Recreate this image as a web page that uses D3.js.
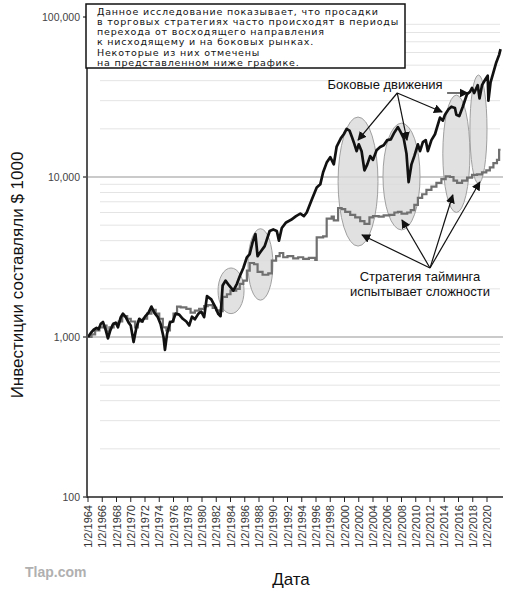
<!DOCTYPE html>
<html>
<head>
<meta charset="utf-8">
<script src="https://cdn.jsdelivr.net/npm/d3@7"></script>
<style>
  body { margin: 0; background: #fff; }
  svg { display: block; font-family: "Liberation Sans", Arial, sans-serif; }
</style>
</head>
<body>
<svg id="chart"></svg>
<script>
// buy & hold (black) : [year, value]
const buyHold = [
  [1964.0, 1000], [1964.4, 1060], [1964.8, 1110], [1965.2, 1140], [1965.5, 1120], [1965.8, 1210],
  [1966.1, 1240], [1966.5, 1100], [1966.8, 980], [1967.1, 1090], [1967.5, 1200], [1967.9, 1230],
  [1968.2, 1150], [1968.6, 1330], [1968.9, 1400], [1969.3, 1330], [1969.7, 1230], [1970.0, 1180],
  [1970.4, 930], [1970.8, 1150], [1971.2, 1300], [1971.6, 1250], [1972.0, 1340], [1972.5, 1420],
  [1972.9, 1550], [1973.3, 1420], [1973.8, 1330], [1974.2, 1200], [1974.6, 1000], [1974.8, 830],
  [1975.1, 1050], [1975.5, 1230], [1975.9, 1250], [1976.3, 1400], [1976.8, 1380], [1977.3, 1300],
  [1977.8, 1250], [1978.2, 1180], [1978.6, 1340], [1979.0, 1290], [1979.5, 1400], [1979.9, 1440],
  [1980.3, 1330], [1980.7, 1800], [1981.3, 1720], [1981.8, 1560], [1982.3, 1390], [1982.6, 1350],
  [1982.9, 2100], [1983.3, 2250], [1983.8, 2100], [1984.4, 1950], [1984.9, 2150], [1985.3, 2400],
  [1985.8, 2700], [1986.3, 3150], [1986.7, 3300], [1987.1, 3900], [1987.5, 4400], [1987.8, 3200],
  [1988.2, 3400], [1988.8, 3700], [1989.5, 4600], [1990.0, 4700], [1990.5, 4600], [1990.8, 4000],
  [1991.2, 4800], [1991.8, 5200], [1992.5, 5400], [1993.2, 5700], [1993.8, 5900], [1994.3, 5700],
  [1994.7, 6000], [1995.4, 7200], [1996.1, 8600], [1996.6, 9000], [1997.0, 10700], [1997.5, 12300],
  [1998.0, 13300], [1998.5, 12000], [1998.9, 15500], [1999.5, 17500], [1999.9, 18500], [2000.3, 20000],
  [2000.7, 19500], [2001.0, 18000], [2001.3, 16500], [2001.7, 14500], [2002.0, 16000], [2002.4, 14500],
  [2002.8, 11000], [2003.2, 12000], [2003.6, 13500], [2004.0, 12800], [2004.5, 14700], [2005.0, 15400],
  [2005.5, 15800], [2006.0, 17000], [2006.5, 17200], [2007.0, 19000], [2007.5, 20500], [2007.9, 19000],
  [2008.3, 17500], [2008.7, 14000], [2009.0, 9300], [2009.4, 12000], [2009.8, 13500], [2010.3, 16000],
  [2010.6, 14500], [2011.0, 16500], [2011.4, 17000], [2011.7, 14500], [2012.2, 17000], [2012.7, 18500],
  [2013.4, 23500], [2013.8, 22500], [2014.1, 24500], [2014.6, 26500], [2015.0, 27500], [2015.5, 27000],
  [2015.7, 24500], [2016.1, 24000], [2016.6, 27500], [2017.2, 33000], [2017.6, 34000], [2017.9, 36000],
  [2018.2, 33500], [2018.7, 37500], [2018.95, 31000], [2019.3, 37500], [2019.8, 41000], [2020.1, 43000],
  [2020.2, 30000], [2020.5, 39000], [2020.9, 45000], [2021.3, 52000], [2021.7, 58000], [2021.9, 63000]
];

// timing strategy (gray, stepped) : [year, value]
const timing = [
  [1964.0, 1000], [1964.5, 1040], [1965.0, 1100], [1965.6, 1150], [1966.2, 1180], [1966.6, 1080],
  [1967.0, 1150], [1967.6, 1220], [1968.3, 1250], [1968.8, 1350], [1969.5, 1300], [1970.0, 1250],
  [1970.6, 1150], [1971.0, 1250], [1971.7, 1300], [1972.3, 1400], [1972.9, 1480], [1973.5, 1400],
  [1974.0, 1300], [1974.5, 1150], [1975.0, 1100], [1975.5, 1250], [1976.0, 1400], [1976.5, 1550],
  [1977.0, 1530], [1977.8, 1500], [1978.4, 1420], [1979.0, 1460], [1979.6, 1500], [1980.3, 1560],
  [1980.8, 1580], [1981.5, 1520], [1982.0, 1470], [1982.5, 1450], [1982.9, 1780], [1983.5, 1850],
  [1984.0, 1950], [1984.8, 2000], [1985.3, 2150], [1985.8, 2250], [1986.3, 2600], [1986.7, 2900],
  [1987.3, 2850], [1987.8, 2550], [1988.5, 2450], [1989.3, 2500], [1989.8, 3000], [1990.4, 3200],
  [1990.9, 3350], [1991.4, 3150], [1992.0, 3200], [1992.8, 3100], [1993.5, 3150], [1994.2, 3080],
  [1995.0, 3120], [1995.9, 3030], [1996.1, 4200], [1997.0, 4250], [1997.5, 5500], [1998.2, 5650],
  [1998.5, 5350], [1999.1, 6400], [1999.6, 6300], [2000.1, 6050], [2000.8, 5800], [2001.5, 5600],
  [2002.2, 5300], [2002.8, 5100], [2003.5, 5600], [2004.0, 5700], [2004.8, 5650], [2005.5, 5750],
  [2006.3, 5800], [2007.0, 6000], [2007.5, 6050], [2008.0, 5900], [2008.8, 6000], [2009.3, 6200],
  [2009.8, 6700], [2010.3, 7400], [2010.9, 7800], [2011.5, 8300], [2012.2, 8700], [2012.9, 9200],
  [2013.6, 9700], [2014.2, 10100], [2014.8, 10000], [2015.3, 9500], [2015.8, 9200], [2016.5, 9500],
  [2017.2, 9900], [2017.9, 10300], [2018.6, 10400], [2019.3, 10700], [2019.9, 11000], [2020.4, 11500],
  [2020.9, 12200], [2021.4, 12800], [2021.7, 14800], [2021.9, 14800]
];

const tickYears = d3.range(1964, 2021, 2);
const yTicks = [100, 1000, 10000, 100000];

// highlighted periods: [yearFrom, yearTo, valueLow, valueHigh]
const periods = [
  [1982.25, 1985.9, 1400, 2700],
  [1986.45, 1989.95, 1700, 4750],
  [1999.1, 2004.7, 3700, 23700],
  [2005.4, 2010.6, 4670, 21700],
  [2013.8, 2017.6, 6000, 32500],
  [2017.6, 2020.0, 9100, 43400]
];

const boxText = [
  "Данное исследование показывает, что просадки",
  "в торговых стратегиях часто происходят в периоды",
  "перехода от восходящего направления",
  "к нисходящему и на боковых рынках.",
  "Некоторые из них отмечены",
  "на представленном ниже графике."
];

// annotations in data units: label position + arrow targets
const sidewaysLabel = { text: "Боковые движения", at: [2005.7, 35500], from: [2007.4, 33500] };
const sidewaysTargets = [[2001.9, 17000], [2008.77, 17000], [2013.7, 25500]];
const sidewaysLine = [[2014.4, 33500], [2017.3, 33500]];
const timingLabel = { lines: ["Стратегия тайминга", "испытывает сложности"], at: [2010.6, 2240], from: [2012.0, 2700] };
const timingTargets = [[2002.46, 4340], [2008.07, 5390], [2015.2, 7720], [2019.0, 9300]];

function draw() {
  const width = 508, height = 591;
  const svg = d3.select('#chart').attr('width', width).attr('height', height);

  const x = d3.scaleLinear().domain([1964, 2020]).range([88, 487]);
  const y = d3.scaleLog().domain([100, 100000]).range([497, 17]);
  const xLeft = 87, xRight = 503;

  // minor gridlines
  const minor = [];
  [100, 1000, 10000].forEach(p => { for (let k = 2; k <= 9; k++) minor.push(p * k); });
  svg.append('g').selectAll('line').data(minor).enter().append('line')
    .attr('x1', 100).attr('x2', xRight - 3)
    .attr('y1', d => y(d)).attr('y2', d => y(d))
    .style('stroke', '#e4e4e4').style('stroke-width', 1);

  // major gridlines
  svg.append('g').selectAll('line').data([1000, 10000]).enter().append('line')
    .attr('x1', xLeft).attr('x2', xRight)
    .attr('y1', d => y(d)).attr('y2', d => y(d))
    .style('stroke', '#b8b8b8').style('stroke-width', 1.5);

  // highlighted ellipses
  svg.append('g').selectAll('ellipse').data(periods).enter().append('ellipse')
    .attr('cx', d => (x(d[0]) + x(d[1])) / 2)
    .attr('cy', d => (y(d[2]) + y(d[3])) / 2)
    .attr('rx', d => (x(d[1]) - x(d[0])) / 2)
    .attr('ry', d => (y(d[2]) - y(d[3])) / 2)
    .style('fill', '#d9d9d9').style('fill-opacity', 0.8)
    .style('stroke', '#a0a0a0').style('stroke-width', 1);

  const line = d3.line().x(d => x(d[0])).y(d => y(d[1]));

  svg.append('path').datum(timing)
    .attr('d', line.curve(d3.curveStepAfter))
    .style('fill', 'none').style('stroke', '#707070').style('stroke-width', 2.2);

  svg.append('path').datum(buyHold)
    .attr('d', d3.line().x(d => x(d[0])).y(d => y(d[1]))(buyHold))
    .style('fill', 'none').style('stroke', '#111').style('stroke-width', 2.7)
    .style('stroke-linejoin', 'round');

  // axes
  svg.append('line').attr('x1', xLeft).attr('x2', xLeft).attr('y1', 4).attr('y2', 498)
    .style('stroke', '#555').style('stroke-width', 2);
  svg.append('line').attr('x1', xLeft).attr('x2', xRight).attr('y1', 497).attr('y2', 497)
    .style('stroke', '#222').style('stroke-width', 1.5);

  svg.append('g').selectAll('line').data(yTicks).enter().append('line')
    .attr('x1', xLeft - 4).attr('x2', xLeft).attr('y1', d => y(d)).attr('y2', d => y(d))
    .style('stroke', '#555').style('stroke-width', 1.5);
  svg.append('g').selectAll('text').data(yTicks).enter().append('text')
    .attr('x', xLeft - 7).attr('y', d => y(d) + 4)
    .attr('text-anchor', 'end')
    .style('font-size', '10.5px').style('fill', '#444')
    .text(d => d3.format(',')(d));

  svg.append('g').selectAll('line').data(tickYears).enter().append('line')
    .attr('x1', d => x(d)).attr('x2', d => x(d)).attr('y1', 497).attr('y2', 502)
    .style('stroke', '#222').style('stroke-width', 1);
  svg.append('g').selectAll('text').data(tickYears).enter().append('text')
    .attr('transform', d => `translate(${x(d) + 4},505) rotate(-90)`)
    .attr('text-anchor', 'end')
    .style('font-size', '11px').style('fill', '#333')
    .text(d => '1/2/' + d);

  // axis titles
  svg.append('text')
    .attr('transform', 'translate(23,275) rotate(-90)')
    .attr('text-anchor', 'middle')
    .style('font-size', '17px').style('fill', '#111')
    .text('Инвестиции составляли $ 1000');
  svg.append('text').attr('x', 291).attr('y', 585)
    .attr('text-anchor', 'middle')
    .style('font-size', '17px').style('fill', '#111')
    .text('Дата');

  svg.append('text').attr('x', 25).attr('y', 577)
    .style('font-size', '14px').style('font-weight', 'bold').style('fill', '#b0b0b0')
    .text('Tlap.com');

  // arrows
  svg.append('defs').append('marker')
    .attr('id', 'arr').attr('viewBox', '0 0 10 10').attr('refX', 9).attr('refY', 5)
    .attr('markerWidth', 9).attr('markerHeight', 9).attr('markerUnits', 'userSpaceOnUse')
    .attr('orient', 'auto')
    .append('path').attr('d', 'M0,0 L10,5 L0,10 Z').style('fill', '#111');

  const ann = svg.append('g');
  sidewaysTargets.forEach(t => {
    ann.append('line')
      .attr('x1', x(sidewaysLabel.from[0])).attr('y1', y(sidewaysLabel.from[1]))
      .attr('x2', x(t[0])).attr('y2', y(t[1]))
      .attr('marker-end', 'url(#arr)')
      .style('stroke', '#111').style('stroke-width', 1.2);
  });
  ann.append('line')
    .attr('x1', x(sidewaysLine[0][0])).attr('y1', y(sidewaysLine[0][1]))
    .attr('x2', x(sidewaysLine[1][0])).attr('y2', y(sidewaysLine[1][1]))
    .attr('marker-end', 'url(#arr)')
    .style('stroke', '#111').style('stroke-width', 1.2);
  timingTargets.forEach(t => {
    ann.append('line')
      .attr('x1', x(timingLabel.from[0])).attr('y1', y(timingLabel.from[1]))
      .attr('x2', x(t[0])).attr('y2', y(t[1]))
      .attr('marker-end', 'url(#arr)')
      .style('stroke', '#111').style('stroke-width', 1.2);
  });

  ann.append('text')
    .attr('x', x(sidewaysLabel.at[0])).attr('y', y(sidewaysLabel.at[1]))
    .attr('text-anchor', 'middle')
    .style('font-size', '13px').style('fill', '#111')
    .text(sidewaysLabel.text);
  timingLabel.lines.forEach((t, i) => {
    ann.append('text')
      .attr('x', x(timingLabel.at[0])).attr('y', y(timingLabel.at[1]) + i * 15)
      .attr('text-anchor', 'middle')
      .style('font-size', '13px').style('fill', '#111')
      .text(t);
  });

  // note box
  svg.append('rect').attr('x', 86).attr('y', 4).attr('width', 319).attr('height', 64)
    .style('fill', '#fff').style('stroke', '#111').style('stroke-width', 1.5);
  svg.append('g').selectAll('text').data(boxText).enter().append('text')
    .attr('x', 97).attr('y', (d, i) => 14.5 + i * 10.3)
    .style('font-family', '"DejaVu Sans", sans-serif')
    .style('font-size', '9.5px').style('letter-spacing', '0.8px').style('fill', '#111')
    .text(d => d);
}

draw();
</script>
</body>
</html>
